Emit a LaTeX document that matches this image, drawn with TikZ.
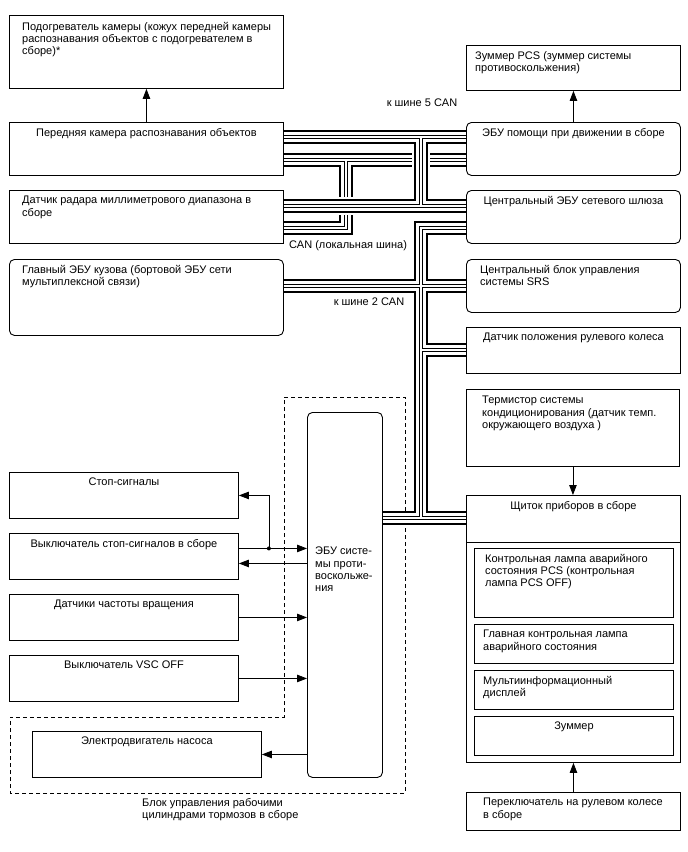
\documentclass[tikz,border=0pt]{standalone}
\usepackage{fontspec}
\setmainfont{Liberation Sans}
\usetikzlibrary{arrows.meta, positioning}

\begin{document}
\begin{tikzpicture}[
    x=1pt, y=-1pt,
    font=\fontsize{11}{12.3}\selectfont,
    box/.style={draw, line width=0.9pt, anchor=north west, inner sep=0pt},
    rbox/.style={box, rounded corners=5pt},
    txt/.style={inner sep=0pt, align=left},
    ctxt/.style={inner sep=0pt, align=center},
    arr/.style={-{Triangle[length=10pt, width=7.5pt]}, line width=0.8pt},
    ln/.style={line width=0.8pt},
    bus/.style={line width=1.8pt, double=white, double distance=9.7pt,
      postaction={draw, line width=0.7pt, double=white, double distance=2.6pt}},
    busgap/.style={draw=white, line width=18pt},
    grp/.style={draw, line width=0.8pt, dash pattern=on 4pt off 3pt},
  ]
  \useasboundingbox (0,0) rectangle (688,852);

  % brake actuator group
  \draw[grp] (284,397) -- (405,397) -- (405,793) -- (10,793) -- (10,717)
    -- (284,717) -- cycle;

  % left column
  \node[box, minimum width=274pt, minimum height=73pt] (heat) at (9,15) {};
  \node[box, minimum width=274pt, minimum height=53pt] (cam) at (9,122) {};
  \node[box, minimum width=274pt, minimum height=53pt] (radar) at (9,190) {};
  \node[rbox, minimum width=274pt, minimum height=76pt] (bcm) at (9,259) {};
  % right column
  \node[box, minimum width=214pt, minimum height=45pt] (pcsbz) at (466,45) {};
  \node[rbox, minimum width=214pt, minimum height=53pt] (dsu) at (466,122) {};
  \node[rbox, minimum width=214pt, minimum height=53pt] (gw) at (466,190) {};
  \node[rbox, minimum width=214pt, minimum height=53pt] (srs) at (466,259) {};
  \node[box, minimum width=214pt, minimum height=46pt] (steer) at (466,327) {};
  \node[box, minimum width=213pt, minimum height=77pt] (therm) at (466,389) {};
  \node[box, minimum width=214pt, minimum height=267pt] (meter) at (466,495) {};
  \node[box, minimum width=199pt, minimum height=69pt] (lamp) at (474,548) {};
  \node[box, minimum width=199pt, minimum height=39pt] (mlamp) at (474,624) {};
  \node[box, minimum width=199pt, minimum height=39pt] (mid) at (474,670) {};
  \node[box, minimum width=199pt, minimum height=39pt] (buzz) at (474,716) {};
  \node[box, minimum width=214pt, minimum height=38pt] (swsw) at (466,792) {};
  % lower left
  \node[box, minimum width=229pt, minimum height=46pt] (stopl) at (9,472) {};
  \node[box, minimum width=229pt, minimum height=46pt] (stsw) at (9,533) {};
  \node[box, minimum width=229pt, minimum height=46pt] (spd) at (9,594) {};
  \node[box, minimum width=229pt, minimum height=46pt] (vsc) at (9,655) {};
  \node[box, minimum width=229pt, minimum height=46pt] (motor) at (32,731) {};
  \node[rbox, minimum width=75pt, minimum height=365pt] (ecu) at (307,412) {};

  \draw[ln] ([yshift=-47pt]meter.north west) -- ([yshift=-47pt]meter.north east);

  % bus junctions
  \coordinate (jA) at (421,137);
  \coordinate (kA) at (421,206);
  \coordinate (jB) at (346,160);
  \coordinate (kB) at (346,228);
  \coordinate (jC) at (421,228);
  \coordinate (mC) at (421,286);
  \coordinate (nC) at (421,350);
  \coordinate (kC) at (421,518);

  % local CAN
  \draw[bus] (cam.east |- jB) -- (dsu.west |- jB)
    (jB) -- (kB) -- (radar.east |- kB);
  % CAN bus 5
  \draw[busgap] (cam.east |- jA) -- (dsu.west |- jA)
    (jA) -- (kA) (radar.east |- kA) -- (gw.west |- kA);
  \draw[bus] (cam.east |- jA) -- (dsu.west |- jA)
    (jA) -- (kA) (radar.east |- kA) -- (gw.west |- kA);
  % CAN bus 2
  \draw[bus] (gw.west |- jC) -- (jC) -- (kC)
    (bcm.east |- mC) -- (srs.west |- mC)
    (nC) -- (steer.west |- nC)
    (ecu.east |- kC) -- (meter.west |- kC);

  % texts
  \node[txt, below right=7pt and 13pt of heat.north west] (heatT)
    {Подогреватель камеры (кожух передней камеры\\распознавания объектов с подогревателем в\\сборе)*};
  \node[ctxt, below=6pt of cam.north] (camT) {Передняя камера распознавания объектов};
  \node[txt, below right=6pt and 13pt of radar.north west] (radarT)
    {Датчик радара миллиметрового диапазона в\\сборе};
  \node[txt, below right=6pt and 13pt of bcm.north west] (bcmT)
    {Главный ЭБУ кузова (бортовой ЭБУ сети\\мультиплексной связи)};
  \node[txt, below right=6pt and 9pt of pcsbz.north west] (pcsbzT)
    {Зуммер PCS (зуммер системы\\противоскольжения)};
  \node[ctxt, below=6pt of dsu.north] (dsuT) {ЭБУ помощи при движении в сборе};
  \node[ctxt, below=6pt of gw.north] (gwT) {Центральный ЭБУ сетевого шлюза};
  \node[txt, below right=6pt and 14pt of srs.north west] (srsT)
    {Центральный блок управления\\системы SRS};
  \node[ctxt, below=6pt of steer.north] (steerT) {Датчик положения рулевого колеса};
  \node[txt, below right=7pt and 16pt of therm.north west] (thermT)
    {Термистор системы\\кондиционирования (датчик темп.\\окружающего воздуха )};
  \node[ctxt, below=6pt of meter.north] (meterT) {Щиток приборов в сборе};
  \node[txt, below right=6pt and 11pt of lamp.north west] (lampT)
    {Контрольная лампа аварийного\\состояния PCS (контрольная\\лампа PCS OFF)};
  \node[txt, below right=6pt and 9pt of mlamp.north west] (mlampT)
    {Главная контрольная лампа\\аварийного состояния};
  \node[txt, below right=6pt and 9pt of mid.north west] (midT)
    {Мультиинформационный\\дисплей};
  \node[ctxt, below=6pt of buzz.north] (buzzT) {Зуммер};
  \node[txt, below right=6pt and 17pt of swsw.north west] (swswT)
    {Переключатель на рулевом колесе\\в сборе};
  \node[ctxt, below=6pt of stopl.north] (stoplT) {Стоп-сигналы};
  \node[ctxt, below=6pt of stsw.north] (stswT) {Выключатель стоп-сигналов в сборе};
  \node[ctxt, below=6pt of spd.north] (spdT) {Датчики частоты вращения};
  \node[ctxt, below=6pt of vsc.north] (vscT) {Выключатель VSC OFF};
  \node[ctxt, below=6pt of motor.north] (motorT) {Электродвигатель насоса};
  \node[txt, anchor=north west] (ecuT) at (315,547)
    {ЭБУ систе-\\мы проти-\\воскольже-\\ния};

  \node[ctxt] (can5) at (422,103) {к шине 5 CAN};
  \node[ctxt] (canloc) at (348,246) {CAN (локальная шина)};
  \node[ctxt] (can2) at (369,302) {к шине 2 CAN};
  \node[txt, anchor=north west] (grpT) at (142,798)
    {Блок управления рабочими\\цилиндрами тормозов в сборе};

  % signal lines
  \draw[arr] (cam.north) -- (heat.south);
  \draw[arr] (dsu.north) -- (pcsbz.south);
  \draw[arr] (therm.south) -- (therm.south |- meter.north);
  \draw[arr] (swsw.north) -- (swsw.north |- meter.south);
  \coordinate (br) at ([xshift=30pt, yshift=8pt]stsw.east);
  \draw[arr] ([yshift=8pt]stsw.east) -- ([yshift=8pt]stsw.east -| ecu.west);
  \fill (br) circle (2pt);
  \draw[arr] (br) |- (stopl.east);
  \draw[arr] ([yshift=-7pt]stsw.east -| ecu.west) -- ([yshift=-7pt]stsw.east);
  \draw[arr] (spd.east) -- (spd.east -| ecu.west);
  \draw[arr] (vsc.east) -- (vsc.east -| ecu.west);
  \draw[arr] (motor.east -| ecu.west) -- (motor.east);
\end{tikzpicture}
\end{document}
